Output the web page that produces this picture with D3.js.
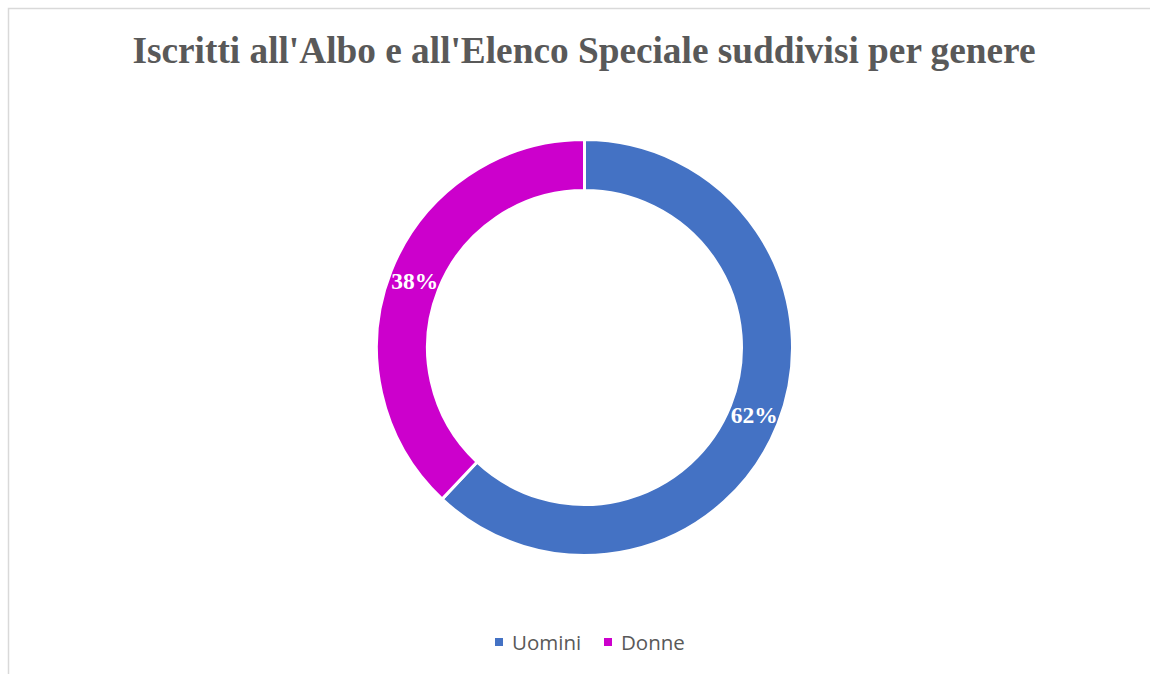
<!DOCTYPE html>
<html>
<head>
<meta charset="utf-8">
<script src="https://cdn.jsdelivr.net/npm/d3@7"></script>
<style>
html,body{margin:0;padding:0;background:#fff;overflow:hidden;}
svg{display:block;}
</style>
</head>
<body>
<svg id="chart" width="1150" height="674"></svg>
<script>
const title = "Iscritti all'Albo e all'Elenco Speciale suddivisi per genere";
const categories = ["Uomini", "Donne"];
const values = [62, 38];
const colors = ["#4472C4", "#CC00CC"];

const svg = d3.select("#chart");
const W = 1150, H = 674;

// chart border
svg.append("rect").attr("x", 8.5).attr("y", 8.5).attr("width", W).attr("height", H)
  .attr("fill", "#fff").attr("stroke", "#d9d9d9").attr("stroke-width", 1.5);

svg.append("text").attr("x", 584).attr("y", 63).attr("text-anchor", "middle")
  .attr("font-family", "'Liberation Serif','Times New Roman',serif")
  .attr("font-weight", "bold").attr("font-size", 37.3).attr("fill", "#595959")
  .text(title);

const cx = 584.5, cy = 347.5, R = 208, r = 157;
const pie = d3.pie().sort(null).value(d => d.v);
const data = pie(categories.map((c, i) => ({c, v: values[i], col: colors[i]})));
const arc = d3.arc().innerRadius(r).outerRadius(R);
const labelArc = d3.arc().innerRadius((R + r) / 2).outerRadius((R + r) / 2);
const total = d3.sum(values);

const g = svg.append("g").attr("transform", `translate(${cx},${cy})`);
g.selectAll("path").data(data).join("path")
  .attr("d", arc).attr("fill", d => d.data.col)
  .attr("stroke", "#fff").attr("stroke-width", 3);

g.selectAll("text").data(data).join("text")
  .attr("transform", d => `translate(${labelArc.centroid(d)})`)
  .attr("text-anchor", "middle").attr("dy", "0.35em")
  .attr("font-family", "'Liberation Serif','Times New Roman',serif")
  .attr("font-weight", "bold").attr("font-size", 23.5).attr("fill", "#fff")
  .text(d => Math.round(d.data.v / total * 100) + "%");

// legend
const legendItems = [{x: 495, tx: 512}, {x: 604, tx: 621}];
const lg = svg.append("g");
categories.forEach((c, i) => {
  lg.append("rect").attr("x", legendItems[i].x).attr("y", 638).attr("width", 8).attr("height", 8)
    .attr("fill", colors[i]);
  lg.append("text").attr("x", legendItems[i].tx).attr("y", 649.5)
    .attr("font-family", "'Open Sans','Noto Sans',sans-serif").attr("font-size", 20.5)
    .attr("fill", "#595959").text(c);
});
</script>
</body>
</html>
